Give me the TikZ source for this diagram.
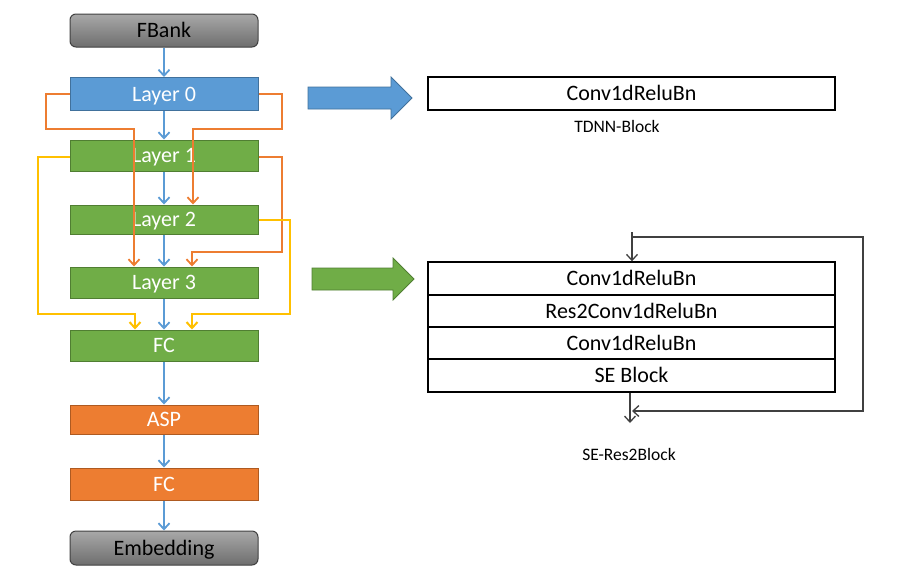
\documentclass[tikz,border=0pt]{standalone}
\usepackage{fontspec}
\setmainfont{Carlito}
\usetikzlibrary{arrows.meta}
\definecolor{cblue}{HTML}{5B9BD5}
\definecolor{cbluedk}{HTML}{41719C}
\definecolor{cgreen}{HTML}{70AD47}
\definecolor{cgreendk}{HTML}{507E32}
\definecolor{corange}{HTML}{ED7D31}
\definecolor{corangedk}{HTML}{AE5A21}
\definecolor{cyellow}{HTML}{FFC000}
\definecolor{cgraytop}{HTML}{A8A8A8}
\definecolor{cgraybot}{HTML}{6E6E6E}
\definecolor{cgraydk}{HTML}{404040}
\tikzset{
  box/.style={minimum width=188pt, inner sep=0pt, line width=1pt, text=white,
    font=\fontsize{22}{26}\selectfont, text height=14.2pt, text depth=0pt},
  bluebox/.style={box, fill=cblue, draw=cbluedk},
  greenbox/.style={box, fill=cgreen, draw=cgreendk},
  orangebox/.style={box, fill=corange, draw=corangedk},
  graybox/.style={box, text=black, top color=cgraytop, bottom color=cgraybot,
    draw=cgraydk, rounded corners=6pt},
  flow/.style={cblue, line width=1.8pt, -{Straight Barb[length=6pt,width=11pt]}},
  skipo/.style={corange, line width=1.8pt, -{Straight Barb[length=6pt,width=11pt]}},
  skipy/.style={cyellow, line width=2pt, -{Straight Barb[length=6pt,width=11pt]}},
  blk/.style={draw=black, line width=1.4pt, minimum width=407pt, inner sep=0pt,
    font=\fontsize{22}{26}\selectfont, text height=14.2pt, text depth=0pt},
  lbl/.style={inner sep=0pt, font=\fontsize{17.5}{20}\selectfont},
  res/.style={cgraydk, line width=1.3pt, -{Straight Barb[length=6pt,width=11pt]}},
}
\begin{document}
\begin{tikzpicture}[x=1pt, y=-1pt]
\useasboundingbox (0,0) rectangle (903,587);
% left column
\node[graybox, minimum height=33pt] (fb) at (164,30.5) {FBank};
\node[bluebox, minimum height=33pt] (l0) at (164,94) {Layer 0};
\node[greenbox, minimum height=31pt] (l1) at (164,155.5) {Layer 1};
\node[greenbox, minimum height=29pt] (l2) at (164,219.5) {Layer 2};
\node[greenbox, minimum height=31pt] (l3) at (164,282.5) {Layer 3};
\node[greenbox, minimum height=31pt] (fc1) at (164,345.5) {FC};
\node[orangebox, minimum height=29pt] (asp) at (164,419.5) {ASP};
\node[orangebox, minimum height=32pt] (fc2) at (164,484) {FC};
\node[graybox, minimum height=34pt] (emb) at (164,548) {Embedding};
% skip connections
\draw[skipo] (l0.west) -| (46,129) -| ([xshift=-30pt]l3.north);
\draw[skipo] (l0.east) -| (282,129) -| ([xshift=29pt]l2.north);
\draw[skipo] ([yshift=-1.5pt]l1.east) -| (282,252) -| ([xshift=28pt]l3.north);
\draw[skipy] ([yshift=-1.5pt]l1.west) -| (38,314) -| ([xshift=-29pt]fc1.north);
\draw[skipy] ([yshift=-0.5pt]l2.east) -| (290,314) -| ([xshift=28pt]fc1.north);
% main flow
\draw[flow] (fb) -- (l0);
\draw[flow] (l0) -- (l1);
\draw[flow] (l1) -- (l2);
\draw[flow] (l2) -- (l3);
\draw[flow] (l3) -- (fc1);
\draw[flow] (fc1) -- (asp);
\draw[flow] (asp) -- (fc2);
\draw[flow] (fc2) -- (emb);
% big arrows
\draw[fill=cblue, draw=cbluedk, line width=0.8pt]
  (308,87) -- (391,87) -- (391,77) -- (412,98) -- (391,119) -- (391,109) -- (308,109) -- cycle;
\draw[fill=cgreen, draw=cgreendk, line width=0.8pt]
  (312,268) -- (393,268) -- (393,258) -- (414,279) -- (393,300) -- (393,290) -- (312,290) -- cycle;
% TDNN block
\node[blk, minimum height=33pt] (tdnn) at (631.5,93.5) {Conv1dReluBn};
\node[lbl] (tdnnl) at (617,126) {TDNN-Block};
% SE-Res2Block
\node[blk, minimum height=33pt] (s1) at (631.5,278.5) {Conv1dReluBn};
\node[blk, minimum height=32pt] (s2) at (631.5,311) {Res2Conv1dReluBn};
\node[blk, minimum height=32pt] (s3) at (631.5,343) {Conv1dReluBn};
\node[blk, minimum height=33pt] (s4) at (631.5,375.5) {SE Block};
\node[lbl] (sel) at (629,454) {SE-Res2Block};
\coordinate (in) at (632,232);
\coordinate (out) at (630,423);
\coordinate (lp) at (633,237);
\draw[res] (in) -- (in |- s1.north);
\draw[res] (s4.south -| out) -- (out);
\draw[res] (lp) -| (863,411) -- (632,411);
\end{tikzpicture}
\end{document}
